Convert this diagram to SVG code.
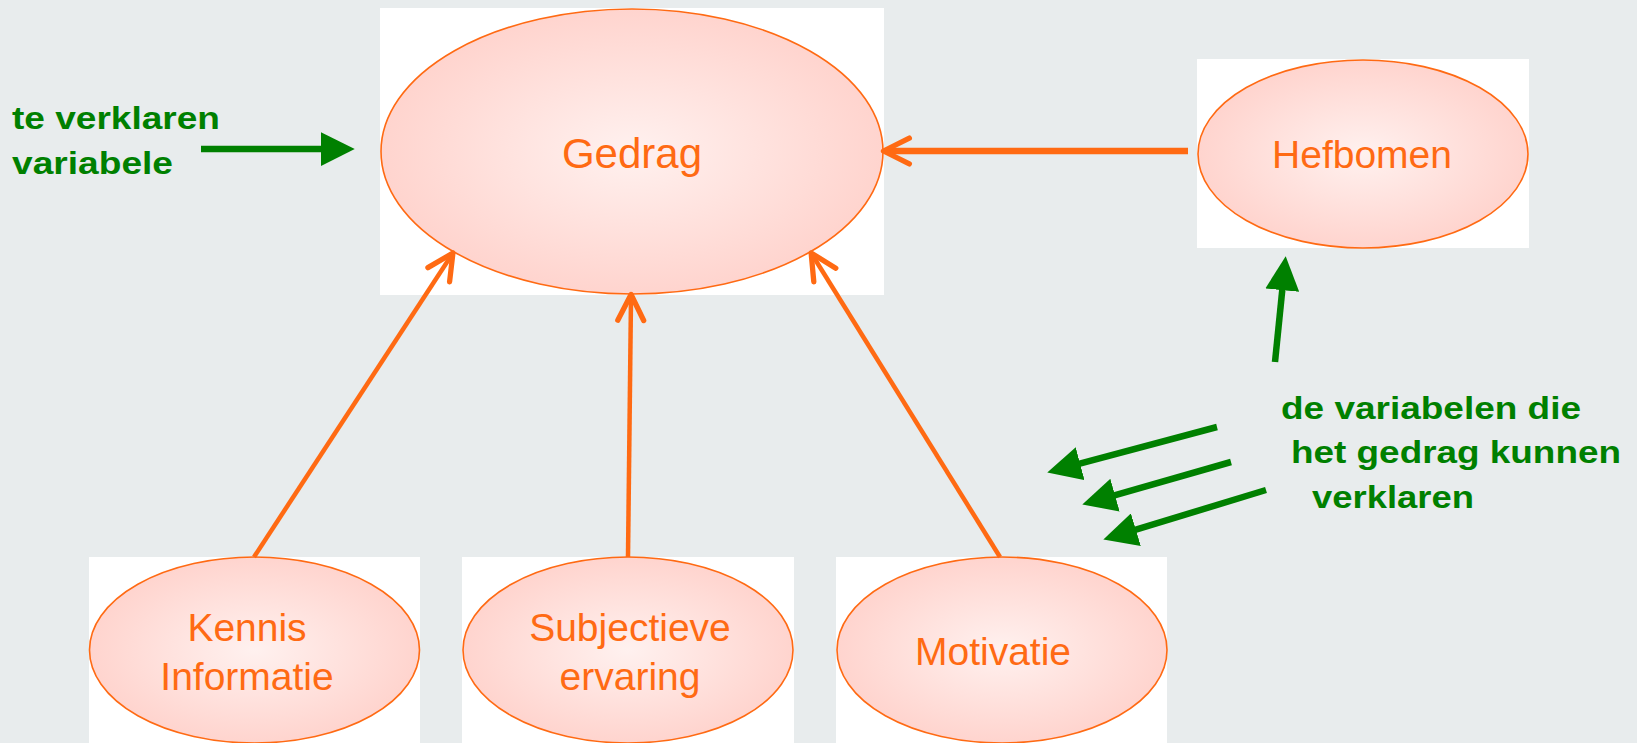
<svg xmlns="http://www.w3.org/2000/svg" width="1637" height="743" viewBox="0 0 1637 743">
<style>
.box{fill:#ffffff}
.node{fill:url(#pink);stroke:#FF6A13;stroke-width:1.6}
.lbl{font-family:"Liberation Sans",Arial,sans-serif;fill:#FF6A13;text-anchor:middle;font-size:39px}
.note{font-family:"Liberation Sans",Arial,sans-serif;font-weight:bold;fill:#008000;font-size:31px}
.oc{stroke:#FF6A13;fill:none;stroke-width:4.5;marker-end:url(#chev)}
.gc{stroke:#008000;fill:none;stroke-width:6.5;marker-end:url(#tri)}
</style>
<defs>
<radialGradient id="pink" cx="50%" cy="50%" r="50%">
<stop offset="0%" stop-color="#FFF1EF"/>
<stop offset="100%" stop-color="#FFD4CE"/>
</radialGradient>
<marker id="chev" markerUnits="userSpaceOnUse" markerWidth="40" markerHeight="40" viewBox="-5 -5 34 34" refX="19" refY="11" orient="auto">
<path d="M0,0 L22,11 L0,22" fill="none" stroke="#FF6A13" stroke-width="4.5" stroke-linecap="round" stroke-linejoin="round"/>
</marker>
<marker id="tri" markerUnits="userSpaceOnUse" markerWidth="34" markerHeight="34" viewBox="0 0 32 32" refX="4" refY="16" orient="auto">
<path d="M0,0 L32,16 L0,32 z" fill="#008000"/>
</marker>
</defs>
<rect width="1637" height="743" fill="#E8ECED"/>

<g id="node-gedrag">
<rect class="box" x="380" y="8" width="504" height="287"/>
<ellipse class="node" cx="632" cy="151.5" rx="251" ry="142.5"/>
<text class="lbl" x="632" y="168" style="font-size:42px">Gedrag</text>
</g>
<g id="node-hefbomen">
<rect class="box" x="1197" y="59" width="332" height="189"/>
<ellipse class="node" cx="1363" cy="154" rx="165" ry="94"/>
<text class="lbl" x="1362" y="168">Hefbomen</text>
</g>
<g id="node-kennis">
<rect class="box" x="89" y="557" width="331" height="186"/>
<ellipse class="node" cx="254.5" cy="650" rx="165" ry="93"/>
<text class="lbl" x="247" y="641">Kennis</text>
<text class="lbl" x="247" y="690">Informatie</text>
</g>
<g id="node-subjectieve">
<rect class="box" x="462" y="557" width="332" height="186"/>
<ellipse class="node" cx="628" cy="650" rx="165" ry="93"/>
<text class="lbl" x="630" y="641">Subjectieve</text>
<text class="lbl" x="630" y="690">ervaring</text>
</g>
<g id="node-motivatie">
<rect class="box" x="836" y="557" width="331" height="186"/>
<ellipse class="node" cx="1002" cy="650" rx="165" ry="93"/>
<text class="lbl" x="993" y="665">Motivatie</text>
</g>

<g id="connectors">
<line class="oc" x1="1188" y1="151" x2="887" y2="151" style="stroke-width:6.5"/>
<line class="oc" x1="254" y1="557" x2="451" y2="256"/>
<line class="oc" x1="628" y1="557" x2="631" y2="298"/>
<line class="oc" x1="1000" y1="557" x2="813" y2="256"/>
<line class="gc" x1="201" y1="149" x2="325" y2="149"/>
<line class="gc" x1="1275" y1="362" x2="1282.7" y2="285.9"/>
<line class="gc" x1="1217" y1="427" x2="1076" y2="464.7"/>
<line class="gc" x1="1231" y1="462" x2="1110.9" y2="496.3"/>
<line class="gc" x1="1266" y1="490" x2="1131.8" y2="530.9"/>
</g>

<g id="notes">
<text class="note" x="12" y="129" textLength="208" lengthAdjust="spacingAndGlyphs">te verklaren</text>
<text class="note" x="12" y="174" textLength="161" lengthAdjust="spacingAndGlyphs">variabele</text>
<text class="note" x="1281" y="419" textLength="300" lengthAdjust="spacingAndGlyphs">de variabelen die</text>
<text class="note" x="1291" y="463" textLength="330" lengthAdjust="spacingAndGlyphs">het gedrag kunnen</text>
<text class="note" x="1312" y="508" textLength="162" lengthAdjust="spacingAndGlyphs">verklaren</text>
</g>
</svg>
